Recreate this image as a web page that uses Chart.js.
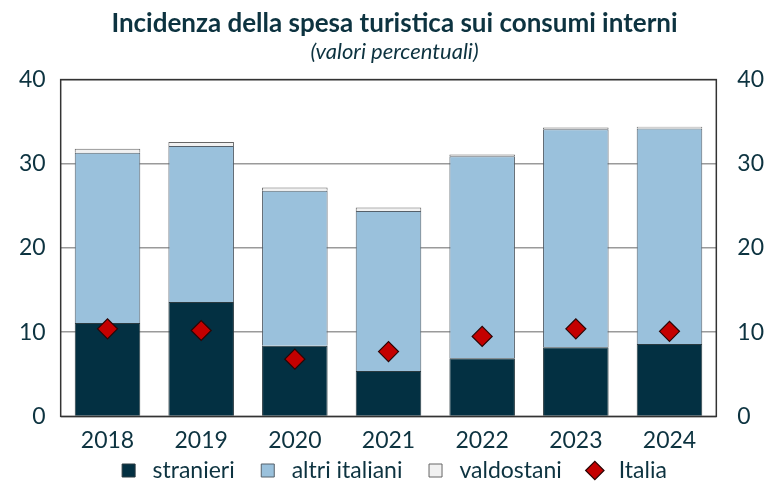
<!DOCTYPE html>
<html>
<head>
<meta charset="utf-8">
<script src="https://cdn.jsdelivr.net/npm/chart.js@4.4.1/dist/chart.umd.min.js"></script>
<style>
  html, body { margin: 0; padding: 0; background: #fff; }
  #wrap { width: 782px; height: 484px; }
</style>
</head>
<body>
<div id="wrap"><canvas id="chart" width="782" height="484"></canvas></div>
<script>
// Incidenza della spesa turistica sui consumi interni (valori percentuali)
const years = ['2018', '2019', '2020', '2021', '2022', '2023', '2024'];
const stranieri = [11.1, 13.6, 8.4, 5.4, 6.9, 8.2, 8.6];
const altriItaliani = [20.2, 18.5, 18.4, 19.0, 24.0, 25.9, 25.6];
const valdostani = [0.5, 0.5, 0.4, 0.4, 0.2, 0.2, 0.2];
const italia = [10.4, 10.2, 6.8, 7.7, 9.5, 10.4, 10.1];
const yTicks = [0, 10, 20, 30, 40];

const textColor = '#0d3340';
const fontFamily = 'Lato, "Open Sans", sans-serif';

// box around the plot area
const frame = {
    id: 'frame',
    afterDatasetsDraw(chart) {
        const { ctx, chartArea: a } = chart;
        ctx.save();
        ctx.strokeStyle = '#333';
        ctx.lineWidth = 1.5;
        ctx.strokeRect(a.left, a.top, a.right - a.left, a.bottom - a.top);
        ctx.restore();
    }
};

const tickOpts = {
    color: textColor,
    font: { family: fontFamily, size: 23 },
    padding: 2,
    autoSkip: false
};

new Chart(document.getElementById('chart'), {
    data: {
        labels: years,
        datasets: [
            {
                type: 'bar', label: 'stranieri', data: stranieri,
                backgroundColor: '#033042', borderColor: '#2a3a40', borderWidth: 1,
                stack: 's', order: 1, pointStyle: 'rect'
            },
            {
                type: 'bar', label: 'altri italiani', data: altriItaliani,
                backgroundColor: '#9ac1dc', borderColor: '#55606a', borderWidth: 1,
                stack: 's', order: 1, pointStyle: 'rect'
            },
            {
                type: 'bar', label: 'valdostani', data: valdostani,
                backgroundColor: '#f1f1f1', borderColor: '#666', borderWidth: 1,
                stack: 's', order: 1, pointStyle: 'rect'
            },
            {
                type: 'line', label: 'Italia', data: italia,
                showLine: false, order: 0,
                pointStyle: 'rectRot', pointRadius: 10, pointHoverRadius: 10,
                pointBackgroundColor: '#c40000', pointBorderColor: '#2b0505', pointBorderWidth: 1.2,
                backgroundColor: '#c40000', borderColor: '#2b0505', borderWidth: 1
            }
        ]
    },
    options: {
        responsive: false,
        animation: false,
        events: [],
        layout: { padding: { left: 4, right: -3, top: 0, bottom: -8 } },
        datasets: { bar: { barPercentage: 0.7, categoryPercentage: 1 } },
        plugins: {
            title: {
                display: true,
                text: 'Incidenza della spesa turistica sui consumi interni',
                color: textColor,
                font: { family: fontFamily, size: 26, weight: 'bold' },
                padding: { top: 8, bottom: 0 }
            },
            subtitle: {
                display: true,
                text: '(valori percentuali)',
                color: textColor,
                font: { family: fontFamily, size: 22, style: 'italic' },
                padding: { bottom: 14 }
            },
            legend: {
                position: 'bottom',
                labels: {
                    usePointStyle: true,
                    boxWidth: 13, boxHeight: 13,
                    padding: 3,
                    color: textColor,
                    font: { family: fontFamily, size: 23 },
                    sort: (a, b) => a.datasetIndex - b.datasetIndex,
                    generateLabels: chart => {
                        const items = Chart.defaults.plugins.legend.labels.generateLabels(chart);
                        const last = chart.data.datasets.length - 1;
                        items.forEach(it => {
                            it.text = ' ' + it.text + (it.datasetIndex < last ? '    ' : '');
                        });
                        return items;
                    }
                }
            },
            tooltip: { enabled: false }
        },
        scales: {
            x: {
                stacked: true,
                grid: { display: false },
                border: { display: false },
                ticks: tickOpts
            },
            y: {
                stacked: true,
                position: 'left',
                min: 0, max: 40,
                afterBuildTicks: s => { s.ticks = yTicks.map(v => ({ value: v })); },
                grid: { color: '#9a9a9a', lineWidth: 1.5, drawTicks: false },
                border: { display: false },
                ticks: { ...tickOpts, padding: 15 }
            },
            y2: {
                position: 'right',
                min: 0, max: 40,
                afterBuildTicks: s => { s.ticks = yTicks.map(v => ({ value: v })); },
                grid: { display: false, drawTicks: false },
                border: { display: false },
                ticks: { ...tickOpts, padding: 21 }
            }
        }
    },
    plugins: [frame]
});
</script>
</body>
</html>
